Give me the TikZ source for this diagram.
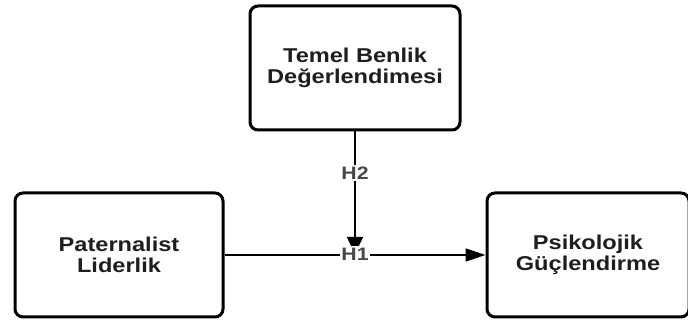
\documentclass[tikz,border=0pt]{standalone}
\usepackage{fontspec}
\setmainfont{Liberation Sans}
\newfontfamily\boxfont[FakeStretch=1.18]{Liberation Sans}
\usetikzlibrary{arrows.meta}
\definecolor{txt}{HTML}{1E1E1E}
\tikzset{
  box/.style={draw=black, line width=3pt, rounded corners=8pt, fill=white,
    align=center, font=\boxfont\fontsize{20}{21.5}\selectfont\bfseries, text=txt,
    inner sep=0pt},
  hlab/.style={fill=white, inner sep=1.5pt, font=\boxfont\fontsize{18}{19}\selectfont\bfseries, text=black!72},
  conn/.style={line width=1.6pt, -{Triangle[length=20pt,width=13pt]}},
  vconn/.style={line width=1.6pt, -{Triangle[length=17pt,width=16pt]}}
}
\begin{document}
\begin{tikzpicture}[x=1pt,y=-1pt]
\clip (0,0) rectangle (688,320);
\fill[white] (0,0) rectangle (688,320);
\node[box, minimum width=210pt, minimum height=124pt] (top) at (355,68) {Temel Benlik\\Değerlendimesi};
\node[box, minimum width=208pt, minimum height=124pt] (left) at (119,255) {Paternalist\\Liderlik};
\node[box, minimum width=202pt, minimum height=124pt] (right) at (588,255) {Psikolojik\\Güçlendirme};
\node[hlab] (h1) at (355,254) {H1};
\node[hlab] (h2) at (355,173) {H2};
\draw[conn] (left.east) -- (right.west);
\draw[line width=1.6pt] (top.south) -- (h2.north);
\draw[vconn] (h2.south) -- (h1.center);
\node[hlab] at (h1) {H1};
\end{tikzpicture}
\end{document}
